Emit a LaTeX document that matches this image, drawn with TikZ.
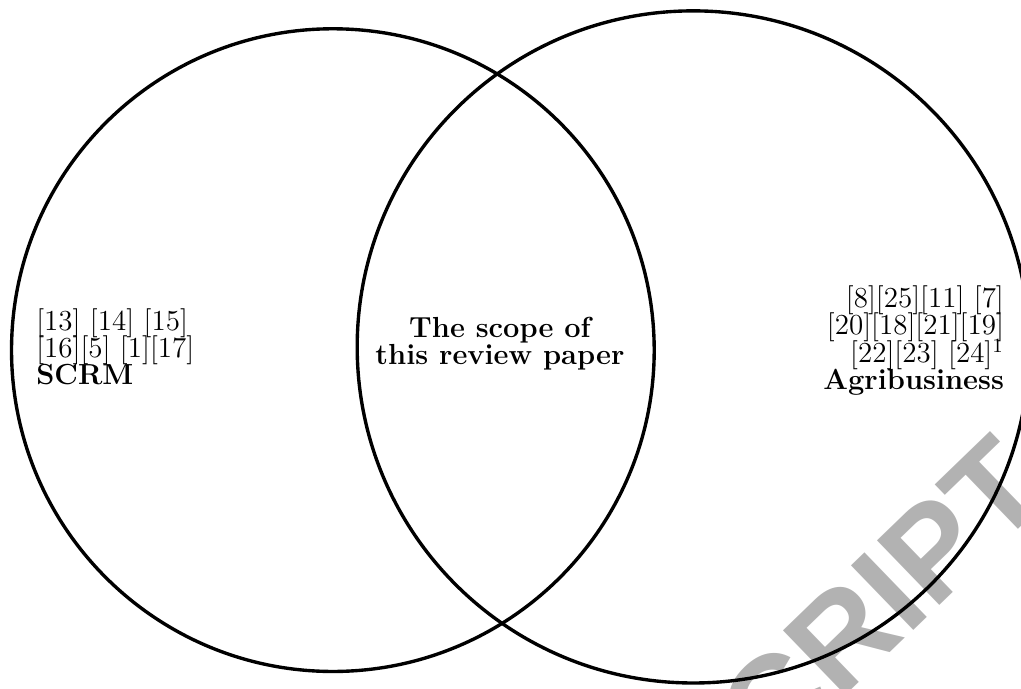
\documentclass[tikz,border=0pt]{standalone}
\usepackage{fontspec}
\newfontfamily\wmfont{Liberation Sans}
\newcommand\reffont{\fontsize{12.9}{12.1}\selectfont\lineskiplimit=-10pt\relax}
\begin{document}
\begin{tikzpicture}[
    ring/.style={line width=1.5pt},
    reftext/.style={inner sep=0pt, font=\reffont}
  ]
  \useasboundingbox (0,0) rectangle (15.95,10.75);

  % marca de agua (solo se ve una parte)
  \node (wm) at (16.55,3.1) [anchor=base east, rotate=44, text=black!30,
    font=\wmfont\bfseries\fontsize{58}{58}\selectfont] {MANUSCRIPT};

  % los dos conjuntos
  \draw[ring] (5.20,5.28) circle (5.02cm);   % SCRM
  \draw[ring] (10.83,5.33) circle (5.25cm);  % Agribusiness

  % referencias de cada conjunto
  \node (scrm) at (0.56,5.33) [reftext, anchor=west, align=left]
    {[13] [14] [15]\\{}[16][5] [1][17]\\ \textbf{SCRM}};
  \node (agri) at (15.69,5.43) [reftext, anchor=east, align=right]
    {[8][25][11] [7]\\{}[20][18][21][19]\\{}[22][23] [24]$^1$\\ \textbf{Agribusiness}};

  % interseccion
  \node (scope) at (7.81,5.38) [reftext, align=center, font=\reffont\bfseries]
    {The scope of\\ this review paper};
\end{tikzpicture}
\end{document}
